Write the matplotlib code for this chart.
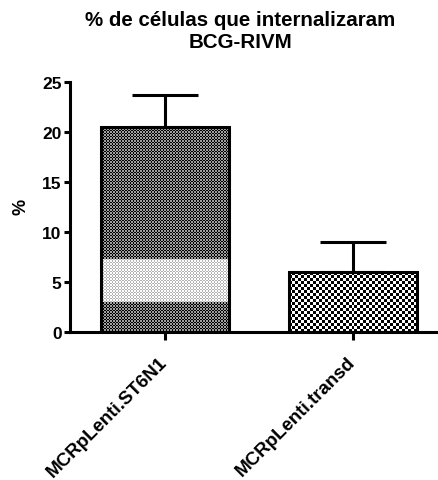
import numpy as np
import matplotlib.pyplot as plt
from matplotlib.transforms import ScaledTranslation

groups = ['MCRpLenti.ST6N1', 'MCRpLenti.transd']
means = [20.5, 6.0]
sem = [3.2, 3.05]
yticks = [0, 5, 10, 15, 20, 25]

plt.rcParams['font.family'] = ['Liberation Sans', 'DejaVu Sans']
plt.rcParams['font.weight'] = 'bold'

fig = plt.figure(figsize=(4.38, 4.81), dpi=100)
ax = fig.add_axes([70 / 438, 1 - 333 / 481, 1 - 70 / 438, 250 / 481])

x = np.arange(len(groups))
bars = ax.bar(x, means, width=0.68, facecolor='none', edgecolor='black',
              linewidth=2.2, zorder=3)
ax.errorbar(x, means, yerr=[np.zeros(len(sem)), sem], fmt='none', ecolor='black',
            elinewidth=2.2, capsize=23.5, capthick=2.2, zorder=2)

ax.set_xlim(-0.503, 1.452)
ax.set_ylim(0, 25)

# checkerboard fills: fine and dark for the first bar, coarse for the second
cells = [1.5, 3.0]
tones = [(0.0, 0.62), (0.0, 1.0)]
for i, bar in enumerate(bars):
    bb = bar.get_window_extent()
    nx = int(round(bb.width / cells[i]))
    ny = int(round(bb.height / cells[i]))
    chk = np.indices((ny, nx)).sum(axis=0) % 2
    lo, hi = tones[i]
    img = np.where(chk == 0, lo, hi).astype(float)
    if i == 0:
        # lighter band in the lower part of the first bar
        yrow = (np.arange(ny) + 0.5) / ny * bar.get_height()
        band = (yrow > 3.0) & (yrow < 7.3)
        img[band] = np.where(chk[band] == 0, 0.7, 1.0)
    ax.imshow(img, cmap='gray', vmin=0, vmax=1, origin='lower',
              extent=(bar.get_x(), bar.get_x() + bar.get_width(), 0, bar.get_height()),
              interpolation='nearest', aspect='auto', zorder=1)

ax.set_xlim(-0.503, 1.452)
ax.set_ylim(0, 25)

ax.spines['top'].set_visible(False)
ax.spines['right'].set_visible(False)
ax.spines['left'].set_linewidth(2.2)
ax.spines['bottom'].set_linewidth(2.2)

ax.set_yticks(yticks)
ax.set_xticks(x)
ax.set_xticklabels(groups, rotation=45, ha='right', rotation_mode='anchor', fontsize=13.5)
ax.tick_params(axis='y', length=4, width=2.2, labelsize=12.5, pad=2)
ax.tick_params(axis='x', length=6, width=2.2, pad=9)
shift = ScaledTranslation(-6 / 100, 0, fig.dpi_scale_trans)
for lab in ax.get_xticklabels():
    lab.set_transform(lab.get_transform() + shift)

fig.text(240 / 438, 1 - 11 / 481, '% de células que internalizaram\nBCG-RIVM',
         ha='center', va='top', fontsize=14.8, linespacing=1.2)
fig.text(21 / 438, 1 - 207 / 481, '%', rotation=90, ha='center', va='center',
         fontsize=13)

fig.savefig('out.png', dpi=100)
